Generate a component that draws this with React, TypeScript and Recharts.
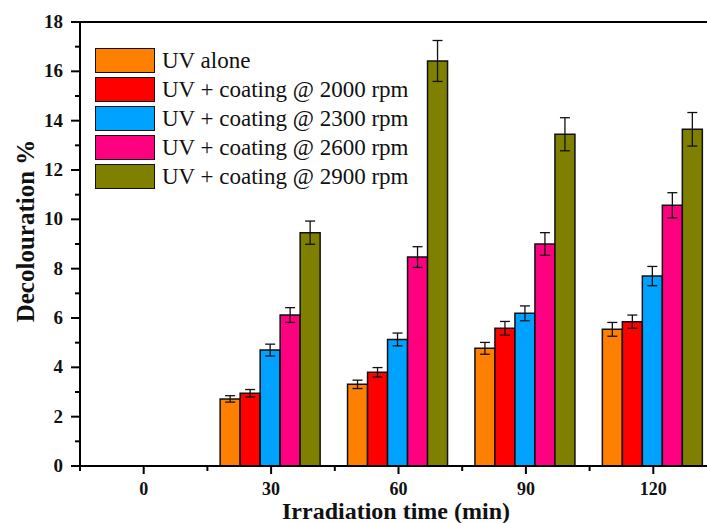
import React from 'react';
import { BarChart, Bar, XAxis, YAxis, ErrorBar, Legend, ReferenceLine, Label } from 'recharts';

// irradiation time (min)
const times = ['0', '30', '60', '90', '120'];

// decolouration % per series, with error values
const uvAlone = [0, 2.72, 3.31, 4.77, 5.54];
const uvAloneErr = [0, 0.13, 0.17, 0.24, 0.28];
const rpm2000 = [0, 2.95, 3.8, 5.58, 5.85];
const rpm2000Err = [0, 0.15, 0.19, 0.28, 0.27];
const rpm2300 = [0, 4.7, 5.13, 6.19, 7.7];
const rpm2300Err = [0, 0.24, 0.26, 0.3, 0.39];
const rpm2600 = [0, 6.12, 8.47, 9.0, 10.57];
const rpm2600Err = [0, 0.3, 0.42, 0.46, 0.51];
const rpm2900 = [0, 9.46, 16.42, 13.45, 13.65];
const rpm2900Err = [0, 0.47, 0.83, 0.67, 0.68];

const yTicks = [0, 1, 2, 3, 4, 5, 6, 7, 8, 9, 10, 11, 12, 13, 14, 15, 16, 17, 18];

const series = [
  { key: 'alone', name: 'UV alone', color: '#FF8000', values: uvAlone, errors: uvAloneErr },
  { key: 'r2000', name: 'UV + coating @ 2000 rpm', color: '#FF0000', values: rpm2000, errors: rpm2000Err },
  { key: 'r2300', name: 'UV + coating @ 2300 rpm', color: '#00A2FF', values: rpm2300, errors: rpm2300Err },
  { key: 'r2600', name: 'UV + coating @ 2600 rpm', color: '#FF0080', values: rpm2600, errors: rpm2600Err },
  { key: 'r2900', name: 'UV + coating @ 2900 rpm', color: '#808000', values: rpm2900, errors: rpm2900Err },
];

const data = times.map((t, i) => {
  const row: any = { time: t };
  series.forEach(s => {
    row[s.key] = s.values[i];
    row[s.key + 'Err'] = s.errors[i];
  });
  return row;
});

const FONT = '"Liberation Serif", "Times New Roman", serif';
const CHART_W = 717;
const PLOT_LEFT = 80;
const HALF_BAND = (CHART_W - PLOT_LEFT) / times.length / 2;

const XTick = (props: any) => {
  const { x, y, payload } = props;
  return (
    <g>
      <line x1={x} y1={y} x2={x} y2={y + 8} stroke="#000" strokeWidth={2} />
      <line x1={x - HALF_BAND} y1={y} x2={x - HALF_BAND} y2={y + 5} stroke="#000" strokeWidth={2} />
      <text x={x} y={y + 29} textAnchor="middle" fontFamily={FONT} fontWeight="bold" fontSize={18} fill="#111">
        {payload.value}
      </text>
    </g>
  );
};

const YTick = (props: any) => {
  const { x, y, payload } = props;
  const major = payload.value % 2 === 0;
  return (
    <g>
      <line x1={x} y1={y} x2={x - (major ? 9 : 5)} y2={y} stroke="#000" strokeWidth={2} />
      {major && (
        <text x={x - 17} y={y + 6} textAnchor="end" fontFamily={FONT} fontWeight="bold" fontSize={19} fill="#111">
          {payload.value}
        </text>
      )}
    </g>
  );
};

const LegendBox = () => (
  <div style={{ fontFamily: FONT, fontSize: 23, color: '#111' }}>
    {series.map(s => (
      <div key={s.key} style={{ display: 'flex', alignItems: 'center', height: 29 }}>
        <div style={{ width: 58, height: 23, background: s.color, border: '1.5px solid #111', marginRight: 7 }} />
        <span style={{ whiteSpace: 'nowrap' }}>{s.name}</span>
      </div>
    ))}
  </div>
);

export default function App() {
  return (
    <div style={{ position: 'absolute', left: 0, top: 0, width: 707, height: 523, overflow: 'hidden', background: '#fff' }}>
      <BarChart
        width={CHART_W}
        height={523}
        data={data}
        margin={{ top: 22, right: 0, bottom: 0, left: 0 }}
        barCategoryGap="10%"
        barGap={0}
      >
        <XAxis
          dataKey="time"
          height={57}
          axisLine={{ stroke: '#000', strokeWidth: 2 }}
          tickLine={false}
          tickSize={0}
          tickMargin={0}
          interval={0}
          tick={<XTick />}
        >
          <Label
            content={() => (
              <text x={396} y={519} textAnchor="middle" fontFamily={FONT} fontWeight="bold" fontSize={24} fill="#111">
                Irradiation time (min)
              </text>
            )}
          />
        </XAxis>
        <YAxis
          width={80}
          domain={[0, 18]}
          ticks={yTicks}
          interval={0}
          axisLine={{ stroke: '#000', strokeWidth: 2 }}
          tickLine={false}
          tickSize={0}
          tickMargin={0}
          tick={<YTick />}
        >
          <Label
            content={() => (
              <text x={34} y={231} transform="rotate(-90 34 231)" textAnchor="middle" fontFamily={FONT} fontWeight="bold" fontSize={25} fill="#111">
                Decolouration %
              </text>
            )}
          />
        </YAxis>
        <ReferenceLine y={18} stroke="#000" strokeWidth={2} ifOverflow="visible" />
        <Legend
          layout="vertical"
          align="center"
          verticalAlign="middle"
          content={<LegendBox />}
          wrapperStyle={{ left: 95, top: 46, width: 'auto' }}
        />
        {series.map(s => (
          <Bar key={s.key} dataKey={s.key} name={s.name} fill={s.color} stroke="#111" strokeWidth={1.5} isAnimationActive={false}>
            <ErrorBar dataKey={s.key + 'Err'} width={5} stroke="#111" strokeWidth={1.3} direction="y" />
          </Bar>
        ))}
      </BarChart>
    </div>
  );
}
